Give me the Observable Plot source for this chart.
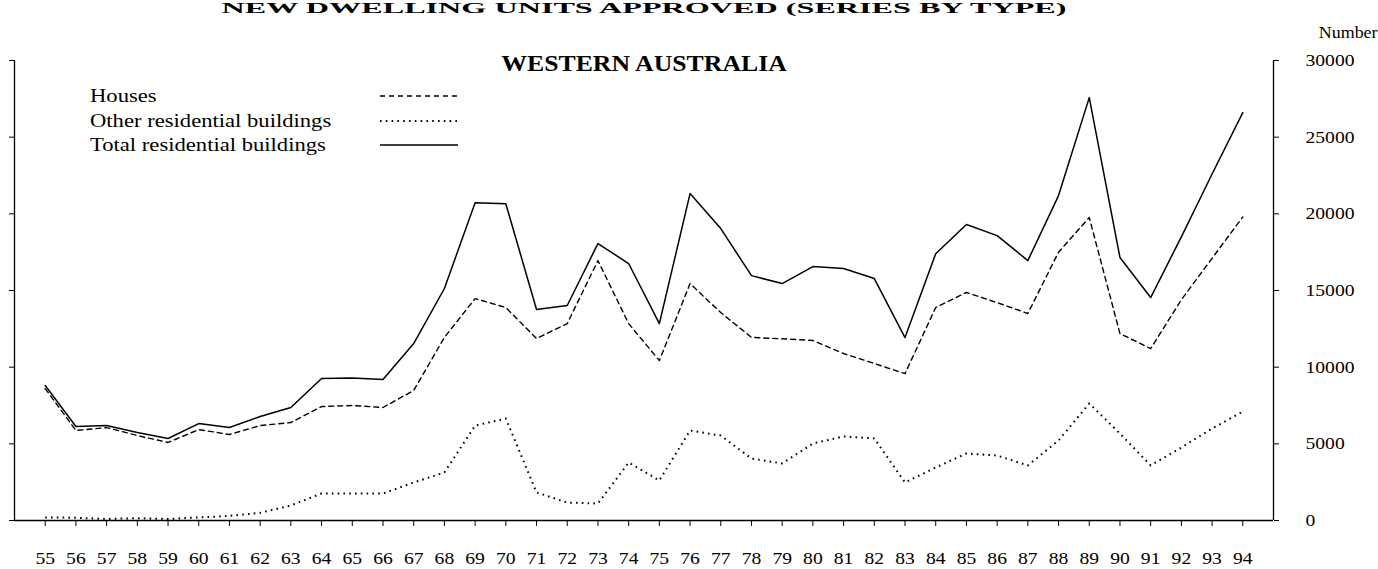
<!DOCTYPE html>
<html>
<head>
<meta charset="utf-8">
<script src="https://cdn.jsdelivr.net/npm/d3@7"></script>
<script src="https://cdn.jsdelivr.net/npm/@observablehq/plot@0.6"></script>
<style>
  html, body { margin: 0; padding: 0; background: #fff; }
  #wrap { position: relative; width: 1378px; height: 569px; overflow: hidden; }
  #legend { position: absolute; left: 90px; top: 84px; font-family: "Liberation Serif", serif; font-size: 19.5px; color: #000; }
  .row { display: flex; align-items: center; height: 24.5px; }
  .lab { width: 290px; white-space: nowrap; }
  .lab span { display: inline-block; transform: scaleX(1.16); transform-origin: left center; }
</style>
</head>
<body>
<div id="wrap">
  <div id="chart"></div>
  <div id="legend"></div>
</div>
<script>
// ---- data ----
const years = [55,56,57,58,59,60,61,62,63,64,65,66,67,68,69,70,71,72,73,74,75,76,77,78,79,80,81,82,83,84,85,86,87,88,89,90,91,92,93,94];
const houses = [8600,5870,6060,5540,5090,5930,5610,6190,6390,7430,7500,7370,8480,11940,14470,13890,11870,12840,16950,12840,10430,15450,13560,11940,11850,11740,10890,10240,9580,13890,14870,14210,13500,17500,19760,12190,11210,14400,17100,19800];
const other = [200,180,100,150,100,200,300,500,980,1760,1760,1760,2480,3130,6190,6650,1830,1170,1110,3780,2610,5870,5540,4040,3720,5020,5480,5350,2480,3460,4370,4240,3590,5220,7630,5670,3590,4760,6000,7100];
const total = [8800,6130,6200,5740,5350,6320,6060,6780,7370,9260,9300,9190,11540,15130,20730,20660,13760,14020,18060,16760,12840,21320,19040,15970,15450,16560,16430,15780,11930,17400,19300,18580,16950,21190,27580,17150,14540,18500,22600,26600];
const yTicks = [0,5000,10000,15000,20000,25000,30000];
const xDomain = [54, 95];
const seriesNames = ["Houses", "Other residential buildings", "Total residential buildings"];
const seriesDash = ["5,4", "1.6,4.2", null];
const topTitle = "NEW DWELLING UNITS APPROVED (SERIES BY TYPE)";
const title = "WESTERN AUSTRALIA";
const unitLabel = "Number";

const rows = years.map((y, i) => ({year: y, houses: houses[i], other: other[i], total: total[i]}));

const FONT = "Liberation Serif";
const chart = Plot.plot({
  width: 1378,
  height: 569,
  marginLeft: 14,
  marginRight: 105,
  marginTop: 60,
  marginBottom: 49,
  style: {fontFamily: FONT, background: "#fff", color: "#000", overflow: "visible"},
  x: {domain: xDomain, type: "linear"},
  y: {domain: [0, 30000]},
  marks: [
    Plot.ruleY([0], {stroke: "#000", strokeWidth: 1.3}),
    Plot.ruleX(xDomain, {stroke: "#000", strokeWidth: 1.3}),
    Plot.axisX({ticks: years, tickFormat: d => String(d), tickSize: 6, tickPadding: 25, fontSize: 17.5, label: null}),
    Plot.axisY({anchor: "right", ticks: yTicks, tickFormat: d => String(d), tickSize: 5, tickPadding: 27, fontSize: 17.5, label: null}),
    Plot.axisY({anchor: "left", ticks: yTicks, tickFormat: () => "", tickSize: 5, label: null}),
    Plot.line(rows, {x: "year", y: "houses", stroke: "#000", strokeWidth: 1.4, strokeDasharray: seriesDash[0]}),
    Plot.line(rows, {x: "year", y: "other", stroke: "#000", strokeWidth: 2, strokeDasharray: seriesDash[1], strokeLinecap: "butt"}),
    Plot.line(rows, {x: "year", y: "total", stroke: "#000", strokeWidth: 1.5}),
    Plot.text([topTitle], {frameAnchor: "top", dy: -48, lineAnchor: "bottom", fontSize: 15, fontWeight: "bold"}),
    Plot.text([title], {frameAnchor: "top", dy: 10, lineAnchor: "bottom", fontSize: 23, fontWeight: "bold"}),
    Plot.text([unitLabel], {frameAnchor: "top-right", dx: 104, dy: -23, lineAnchor: "bottom", textAnchor: "end", fontSize: 16})
  ]
});
document.getElementById("chart").appendChild(chart);

// widen glyphs slightly to match the scanned original
chart.querySelectorAll("text").forEach(t => {
  const w = t.getComputedTextLength();
  if (w > 0) {
    const target = t.textContent === topTitle ? 845 : w * 1.12;
    t.setAttribute("textLength", target.toFixed(1));
    t.setAttribute("lengthAdjust", "spacingAndGlyphs");
  }
});

// legend
const legend = d3.select("#legend");
seriesNames.forEach((name, i) => {
  const row = legend.append("div").attr("class", "row");
  row.append("div").attr("class", "lab").append("span").text(name);
  const svg = row.append("svg").attr("width", 80).attr("height", 10);
  svg.append("line").attr("x1", 0).attr("x2", 78).attr("y1", 5).attr("y2", 5)
    .attr("stroke", "#000").attr("stroke-width", i === 1 ? 2 : 1.4)
    .attr("stroke-dasharray", seriesDash[i]);
});
</script>
</body>
</html>
